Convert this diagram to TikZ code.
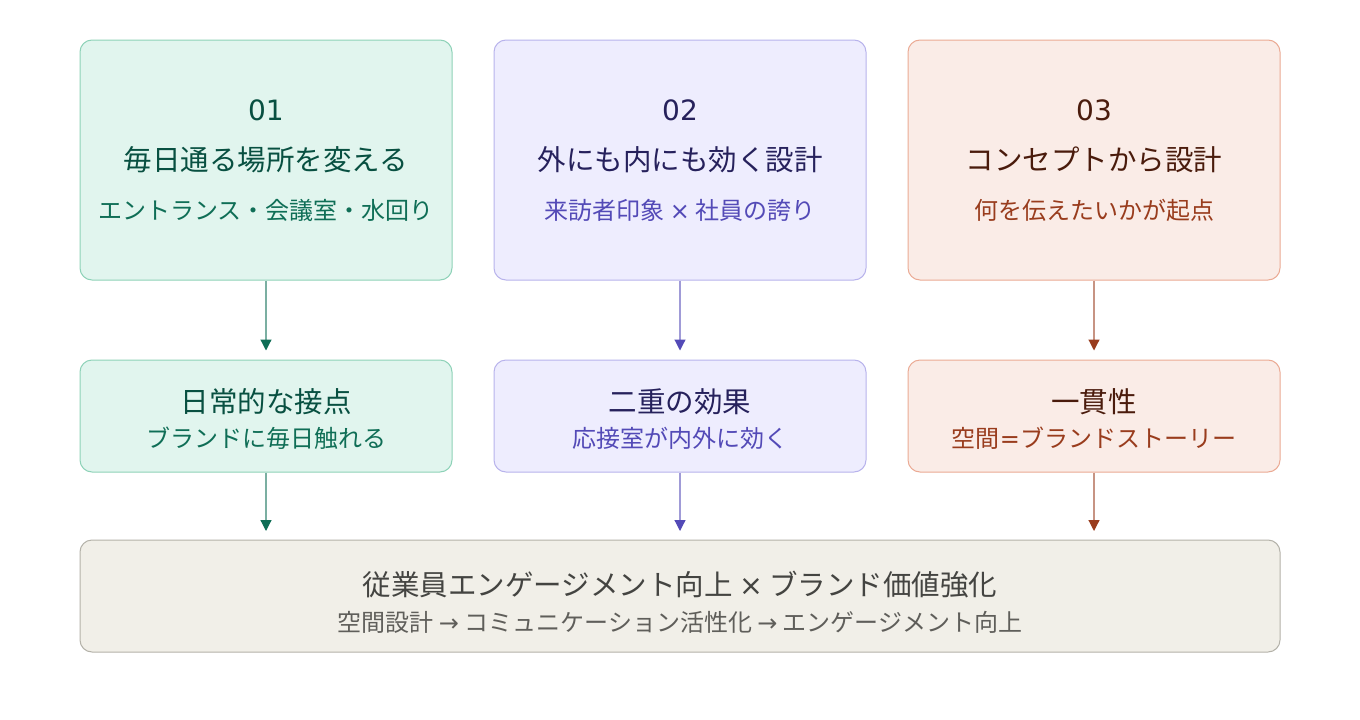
\documentclass[tikz,border=0pt]{standalone}
\usepackage{fontspec}
\setmainfont{Noto Sans CJK JP}
\newfontfamily\dejavu{DejaVu Sans}
\usetikzlibrary{arrows.meta}

\definecolor{grnfill}{HTML}{E1F5EE}
\definecolor{grnline}{HTML}{8ED2B8}
\definecolor{grndark}{HTML}{085041}
\definecolor{grntext}{HTML}{0F6E56}
\definecolor{purfill}{HTML}{EEEDFE}
\definecolor{purline}{HTML}{B8B3EC}
\definecolor{purdark}{HTML}{26215C}
\definecolor{purtext}{HTML}{534AB7}
\definecolor{orgfill}{HTML}{FAECE7}
\definecolor{orgline}{HTML}{EBAA94}
\definecolor{orgdark}{HTML}{4A1B0C}
\definecolor{orgtext}{HTML}{993C1D}
\definecolor{gryfill}{HTML}{F1EFE8}
\definecolor{gryline}{HTML}{B4B2A9}
\definecolor{grydark}{HTML}{444441}
\definecolor{grytext}{HTML}{5F5E5A}

\begin{document}
\begin{tikzpicture}[x=1pt,y=-1pt,
    box/.style={draw,line width=1pt,rounded corners=12pt,inner sep=0pt},
    topbox/.style={box,minimum width=372pt,minimum height=240pt},
    midbox/.style={box,minimum width=372pt,minimum height=112pt},
    num/.style={font=\dejavu\fontsize{28}{32}\selectfont},
    ttl/.style={font=\fontsize{28.5}{33}\selectfont},
    sub/.style={font=\fontsize{24}{28}\selectfont},
    link/.style={line width=1.2pt,shorten >=9pt}]
  \useasboundingbox[fill=white] (0,0) rectangle (1360,720);
  \draw
    (266,160) node[topbox,fill=grnfill,draw=grnline] (0){}
    (680,160) node[topbox,fill=purfill,draw=purline] (1){}
    (1094,160) node[topbox,fill=orgfill,draw=orgline] (2){}
    (266,416) node[midbox,fill=grnfill,draw=grnline] (3){}
    (680,416) node[midbox,fill=purfill,draw=purline] (4){}
    (1094,416) node[midbox,fill=orgfill,draw=orgline] (5){}
    (680,596) node[box,minimum width=1200pt,minimum height=112pt,fill=gryfill,draw=gryline] (6){};
  % top row texts
  \node[num,text=grndark] (n0) at (266,110) {01};
  \node[ttl,text=grndark] (t0) at (266,160) {毎日通る場所を変える};
  \node[sub,text=grntext] (s0) at (266,210) {エントランス・会議室・水回り};
  \node[num,text=purdark] (n1) at (680,110) {02};
  \node[ttl,text=purdark] (t1) at (680,160) {外にも内にも効く設計};
  \node[sub,text=purtext] (s1) at (680,210) {来訪者印象 {\dejavu×} 社員の誇り};
  \node[num,text=orgdark] (n2) at (1094,110) {03};
  \node[ttl,text=orgdark] (t2) at (1094,160) {コンセプトから設計};
  \node[sub,text=orgtext] (s2) at (1094,210) {何を伝えたいかが起点};
  % middle row texts
  \node[ttl,text=grndark] (t3) at (266,402) {日常的な接点};
  \node[sub,text=grntext] (s3) at (266,438) {ブランドに毎日触れる};
  \node[ttl,text=purdark] (t4) at (680,402) {二重の効果};
  \node[sub,text=purtext] (s4) at (680,438) {応接室が内外に効く};
  \node[ttl,text=orgdark] (t5) at (1094,402) {一貫性};
  \node[sub,text=orgtext] (s5) at (1094,438) {空間{\dejavu=}ブランドストーリー};
  % bottom texts
  \node[ttl,text=grydark] (t6) at (680,585) {従業員エンゲージメント向上 {\dejavu×} ブランド価値強化};
  \node[sub,text=grytext] (s6) at (680,622) {空間設計 {\dejavu→} コミュニケーション活性化 {\dejavu→} エンゲージメント向上};
  \begin{scope}[link]
    \draw[draw=grntext!55,-{Triangle[width=11pt,length=11pt,color=grntext]}] (0) -- (3);
    \draw[draw=purtext!55,-{Triangle[width=11pt,length=11pt,color=purtext]}] (1) -- (4);
    \draw[draw=orgtext!55,-{Triangle[width=11pt,length=11pt,color=orgtext]}] (2) -- (5);
    \draw[draw=grntext!55,-{Triangle[width=11pt,length=11pt,color=grntext]}] (3) -- (266,540);
    \draw[draw=purtext!55,-{Triangle[width=11pt,length=11pt,color=purtext]}] (4) -- (680,540);
    \draw[draw=orgtext!55,-{Triangle[width=11pt,length=11pt,color=orgtext]}] (5) -- (1094,540);
  \end{scope}
\end{tikzpicture}
\end{document}
